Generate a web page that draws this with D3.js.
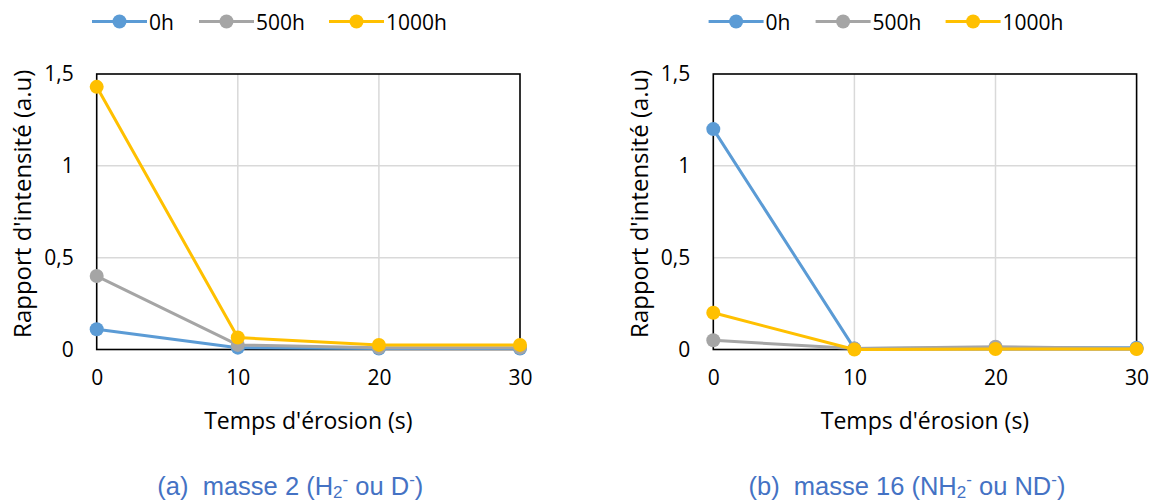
<!DOCTYPE html>
<html><head><meta charset="utf-8">
<script src="https://cdn.jsdelivr.net/npm/d3@7"></script>
<style>body{margin:0;background:#fff}svg{display:block}</style>
</head><body>
<svg id="c" width="1152" height="503"></svg>
<script>
const times = [0, 10, 20, 30];
const seriesNames = ["0h", "500h", "1000h"];
const seriesColors = ["#5B9BD5", "#A5A5A5", "#FFC000"];
const yTicks = [0, 0.5, 1, 1.5];
const yTickLabels = ["0", "0,5", "1", "1,5"];
const xTickLabels = ["0", "10", "20", "30"];
// chart (a) masse 2
const a_0h = [0.11, 0.01, 0.005, 0.005];
const a_500h = [0.40, 0.025, 0.01, 0.01];
const a_1000h = [1.43, 0.065, 0.025, 0.025];
// chart (b) masse 16
const b_0h = [1.2, 0.005, 0.01, 0.01];
const b_500h = [0.05, 0.005, 0.015, 0.005];
const b_1000h = [0.2, 0.0, 0.003, 0.003];
const yTitle = "Rapport d'intensité (a.u)";
const xTitle = "Temps d'érosion (s)";

const svg = d3.select("#c");
const font = "'Open Sans', sans-serif";

function drawChart(offsetX, data, caption) {
  const x = d3.scaleLinear().domain([0, 30]).range([96.7 + offsetX, 520 + offsetX]);
  const y = d3.scaleLinear().domain([0, 1.5]).range([349.5, 74]);
  const g = svg.append("g");
  g.append("g").selectAll("line").data(yTicks.slice(1, 3)).join("line")
    .attr("x1", x(0)).attr("x2", x(30)).attr("y1", d => y(d)).attr("y2", d => y(d))
    .attr("stroke", "#D9D9D9").attr("stroke-width", 1.5);
  g.append("g").selectAll("line").data(times.slice(1, 3)).join("line")
    .attr("y1", y(0)).attr("y2", y(1.5)).attr("x1", d => x(d)).attr("x2", d => x(d))
    .attr("stroke", "#D9D9D9").attr("stroke-width", 1.5);
  g.append("rect").attr("x", x(0)).attr("y", y(1.5)).attr("width", x(30) - x(0)).attr("height", y(0) - y(1.5))
    .attr("fill", "none").attr("stroke", "#000").attr("stroke-width", 1.6);
  const ya = d3.axisLeft(y).tickValues(yTicks).tickFormat((d, i) => yTickLabels[i]).tickSize(0).tickPadding(23);
  const yg = g.append("g").attr("transform", `translate(${x(0)},0)`).call(ya);
  const xa = d3.axisBottom(x).tickValues(times).tickFormat((d, i) => xTickLabels[i]).tickSize(0).tickPadding(21);
  const xg = g.append("g").attr("transform", `translate(0,${y(0)})`).call(xa);
  [yg, xg].forEach(a => {
    a.select(".domain").remove();
    a.selectAll("text").attr("font-family", font).attr("font-size", 21).attr("fill", "#000");
  });
  g.append("text").attr("transform", `translate(${x(0) - 75},${(y(0) + y(1.5)) / 2 - 8}) rotate(-90)`)
    .attr("text-anchor", "middle").attr("dominant-baseline", "central")
    .attr("font-family", font).attr("font-size", 24).text(yTitle);
  g.append("text").attr("x", (x(0) + x(30)) / 2).attr("y", 420).attr("text-anchor", "middle")
    .attr("dominant-baseline", "central").attr("font-family", font).attr("font-size", 23).text(xTitle);
  const line = d3.line().x((d, i) => x(times[i])).y(d => y(d));
  data.forEach((vals, si) => {
    g.append("path").attr("d", line(vals)).attr("fill", "none")
      .attr("stroke", seriesColors[si]).attr("stroke-width", 3).attr("stroke-linejoin", "round");
    g.append("g").selectAll("circle").data(vals).join("circle")
      .attr("cx", (d, i) => x(times[i])).attr("cy", d => y(d)).attr("r", 7)
      .attr("fill", seriesColors[si]);
  });
  const legX = [92, 199, 329].map(v => v + offsetX);
  const legW = 55;
  seriesNames.forEach((n, i) => {
    const lg = g.append("g");
    lg.append("line").attr("x1", legX[i]).attr("x2", legX[i] + legW).attr("y1", 21.5).attr("y2", 21.5)
      .attr("stroke", seriesColors[i]).attr("stroke-width", 3);
    lg.append("circle").attr("cx", legX[i] + legW / 2).attr("cy", 21.5).attr("r", 7).attr("fill", seriesColors[i]);
    lg.append("text").attr("x", legX[i] + legW + 2).attr("y", 21.5).attr("dominant-baseline", "central")
      .attr("font-family", font).attr("font-size", 21).text(n);
  });
  const cap = g.append("text").attr("x", (x(0) + x(30)) / 2 - 18).attr("y", 495).attr("text-anchor", "middle")
    .attr("font-family", "'Liberation Sans', Arial, sans-serif").attr("font-size", 25.5).attr("fill", "#4472C4");
  caption.forEach(p => {
    const t = cap.append("tspan").text(p.t);
    if (p.s === "sub") t.attr("font-size", 17).attr("dy", 3);
    if (p.s === "sup") t.attr("font-size", 17).attr("dy", p.dy);
    if (p.s === "back") t.attr("dy", p.dy);
  });
}

drawChart(0, [a_0h, a_500h, a_1000h], [
  {t: "(a)\u00a0\u00a0masse 2 (H"}, {t: "2", s: "sub"}, {t: "-", s: "sup", dy: -13}, {t: " ou D", s: "back", dy: 10},
  {t: "-", s: "sup", dy: -10}, {t: ")", s: "back", dy: 10}
]);
drawChart(616.6, [b_0h, b_500h, b_1000h], [
  {t: "(b)\u00a0\u00a0masse 16 (NH"}, {t: "2", s: "sub"}, {t: "-", s: "sup", dy: -13}, {t: " ou ND", s: "back", dy: 10},
  {t: "-", s: "sup", dy: -10}, {t: ")", s: "back", dy: 10}
]);
</script>
</body></html>
